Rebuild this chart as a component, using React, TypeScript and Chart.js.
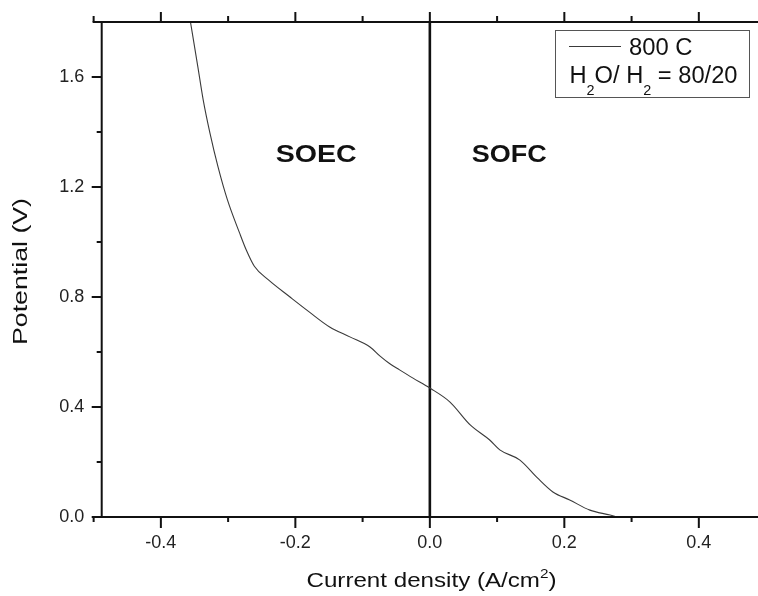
import { useEffect, useRef } from "react";
import { Chart, registerables } from "chart.js";

Chart.register(...registerables);

// ---- data ----
const currentDensity = [
  -0.356, -0.345, -0.337, -0.327, -0.315, -0.301, -0.283, -0.273, -0.261,
  -0.24, -0.208, -0.179, -0.149, -0.119, -0.089, -0.074, -0.06, -0.045, -0.025,
  0.0, 0.03, 0.06, 0.089, 0.104, 0.134, 0.16, 0.183, 0.208, 0.238, 0.268, 0.278,
];
const potential = [
  1.8, 1.637, 1.516, 1.396, 1.273, 1.153, 1.033, 0.971, 0.912,
  0.862, 0.8, 0.745, 0.691, 0.655, 0.618, 0.585, 0.558, 0.535, 0.505,
  0.469, 0.418, 0.335, 0.28, 0.244, 0.207, 0.142, 0.091, 0.062, 0.025, 0.007, 0.0,
];
const zeroLineX = [0, 0];
const zeroLineY = [0, 1.8];

const xMajorTicks = [-0.4, -0.2, 0, 0.2, 0.4];
const xMinorTicks = [-0.5, -0.3, -0.1, 0.1, 0.3, 0.5];
const yMajorTicks = [0, 0.4, 0.8, 1.2, 1.6];
const yMinorTicks = [0.2, 0.6, 1.0, 1.4];

const seriesLabel = "800 C";
const regionLabels = ["SOEC", "SOFC"];
const regionX = [-0.169, 0.118];
const regionY = 1.292;

const xTitle = "Current density (A/cm";
const yTitle = "Potential (V)";

const FONT = "'Liberation Sans', Arial, Helvetica, sans-serif";

type Run = { t: string; size: number; dy: number; bold?: boolean };

function runsWidth(ctx: CanvasRenderingContext2D, runs: Run[]) {
  let w = 0;
  for (const r of runs) {
    ctx.font = `${r.bold ? "bold " : ""}${r.size}px ${FONT}`;
    w += ctx.measureText(r.t).width;
  }
  return w;
}

// draws runs starting at (0,0) baseline, stretched to target width
function drawRuns(ctx: CanvasRenderingContext2D, runs: Run[], target: number) {
  const w = runsWidth(ctx, runs);
  const sx = target / w;
  ctx.save();
  ctx.scale(sx, 1);
  let x = 0;
  ctx.textBaseline = "alphabetic";
  ctx.textAlign = "left";
  for (const r of runs) {
    ctx.font = `${r.bold ? "bold " : ""}${r.size}px ${FONT}`;
    ctx.fillText(r.t, x, r.dy);
    x += ctx.measureText(r.t).width;
  }
  ctx.restore();
}

const decorPlugin = {
  id: "decor",
  afterDraw(chart: any) {
    const { ctx, chartArea: a } = chart;
    const xs = chart.scales.x;
    const ys = chart.scales.y;
    ctx.save();
    ctx.strokeStyle = "#111";
    ctx.lineWidth = 2;
    const xl = xs.getPixelForValue(-0.5) - 1;
    const W = chart.width;
    // axis lines
    ctx.beginPath();
    ctx.moveTo(xl, a.bottom);
    ctx.lineTo(W, a.bottom);
    ctx.moveTo(xl, a.top);
    ctx.lineTo(W, a.top);
    ctx.moveTo(a.left, a.top);
    ctx.lineTo(a.left, a.bottom);
    ctx.stroke();
    // tick marks
    ctx.beginPath();
    for (const v of xMajorTicks) {
      const p = xs.getPixelForValue(v);
      ctx.moveTo(p, a.bottom);
      ctx.lineTo(p, a.bottom + 11);
      ctx.moveTo(p, a.top);
      ctx.lineTo(p, a.top - 10);
    }
    for (const v of xMinorTicks) {
      const p = xs.getPixelForValue(v);
      ctx.moveTo(p, a.bottom);
      ctx.lineTo(p, a.bottom + 5);
      ctx.moveTo(p, a.top);
      ctx.lineTo(p, a.top - 6);
    }
    for (const v of yMajorTicks) {
      const p = ys.getPixelForValue(v);
      ctx.moveTo(a.left, p);
      ctx.lineTo(a.left - 10, p);
    }
    for (const v of yMinorTicks) {
      const p = ys.getPixelForValue(v);
      ctx.moveTo(a.left, p);
      ctx.lineTo(a.left - 5, p);
    }
    ctx.stroke();

    ctx.fillStyle = "#111";
    // region labels
    regionLabels.forEach((lab, i) => {
      const cx = xs.getPixelForValue(regionX[i]);
      const by = ys.getPixelForValue(regionY);
      const target = i === 0 ? 81 : 75;
      ctx.save();
      ctx.translate(cx - target / 2, by);
      drawRuns(ctx, [{ t: lab, size: 23.5, dy: 0, bold: true }], target);
      ctx.restore();
    });

    // x axis title
    ctx.save();
    ctx.translate(306.5, 586.5);
    drawRuns(
      ctx,
      [
        { t: xTitle, size: 20.5, dy: 0 },
        { t: "2", size: 13, dy: -9 },
        { t: ")", size: 20.5, dy: 0 },
      ],
      250
    );
    ctx.restore();

    // y axis title
    ctx.save();
    ctx.translate(27, 345);
    ctx.rotate(-Math.PI / 2);
    drawRuns(ctx, [{ t: yTitle, size: 20.5, dy: 0 }], 147);
    ctx.restore();

    // legend
    ctx.strokeStyle = "#555";
    ctx.lineWidth = 1;
    ctx.strokeRect(555.5, 30.5, 194, 67);
    const ds = chart.data.datasets[0];
    ctx.strokeStyle = ds.borderColor;
    ctx.lineWidth = 1;
    ctx.beginPath();
    ctx.moveTo(569, 46.5);
    ctx.lineTo(621, 46.5);
    ctx.stroke();
    ctx.save();
    ctx.translate(629, 55);
    drawRuns(ctx, [{ t: ds.label, size: 23, dy: 0 }], 63.5);
    ctx.restore();
    ctx.save();
    ctx.translate(569.5, 83.3);
    drawRuns(
      ctx,
      [
        { t: "H", size: 23, dy: 0 },
        { t: "2", size: 14, dy: 11.5 },
        { t: "O/ H", size: 23, dy: 0 },
        { t: "2", size: 14, dy: 11.5 },
        { t: " = 80/20", size: 23, dy: 0 },
      ],
      168
    );
    ctx.restore();
    ctx.restore();
  },
};

export default function App() {
  const ref = useRef<HTMLCanvasElement | null>(null);
  useEffect(() => {
    if (!ref.current) return;
    const chart = new Chart(ref.current, {
      type: "scatter",
      data: {
        datasets: [
          {
            label: seriesLabel,
            data: currentDensity.map((x, i) => ({ x, y: potential[i] })),
            showLine: true,
            borderColor: "#3a3a3a",
            borderWidth: 1.1,
            pointRadius: 0,
            cubicInterpolationMode: "monotone",
          },
          {
            label: "zero",
            data: zeroLineX.map((x, i) => ({ x, y: zeroLineY[i] })),
            showLine: true,
            borderColor: "#111",
            borderWidth: 2.6,
            pointRadius: 0,
          },
        ],
      },
      options: {
        responsive: false,
        animation: false,
        devicePixelRatio: 1,
        layout: { padding: { top: 22, left: 0, right: 0, bottom: 0 } },
        plugins: {
          legend: { display: false },
          tooltip: { enabled: false },
        },
        scales: {
          x: {
            type: "linear",
            min: -0.488,
            max: 0.488,
            grid: { display: false, drawTicks: false },
            border: { display: false },
            afterFit: (s: any) => {
              s.height = 79;
              s.paddingLeft = 0;
              s.paddingRight = 0;
            },
            afterBuildTicks: (s: any) => {
              s.ticks = xMajorTicks.map((v) => ({ value: v }));
            },
            ticks: {
              padding: 15,
              color: "#222",
              font: { family: FONT, size: 18 },
              callback: (v: any) => Number(v).toFixed(1),
              maxRotation: 0,
              autoSkip: false,
            },
          },
          y: {
            type: "linear",
            min: 0,
            max: 1.8,
            grid: { display: false, drawTicks: false },
            border: { display: false },
            afterFit: (s: any) => {
              s.width = 101.7;
              s.paddingTop = 0;
              s.paddingBottom = 0;
            },
            afterBuildTicks: (s: any) => {
              s.ticks = yMajorTicks.map((v) => ({ value: v }));
            },
            ticks: {
              padding: 17.4,
              color: "#222",
              font: { family: FONT, size: 18 },
              callback: (v: any) => Number(v).toFixed(1),
              autoSkip: false,
            },
          },
        },
      },
      plugins: [decorPlugin],
    });
    return () => chart.destroy();
  }, []);
  return (
    <div
      style={{
        position: "fixed",
        left: 0,
        top: 0,
        width: 758,
        height: 596,
        background: "#fff",
      }}
    >
      <canvas ref={ref} width={758} height={596} style={{ display: "block" }} />
    </div>
  );
}
